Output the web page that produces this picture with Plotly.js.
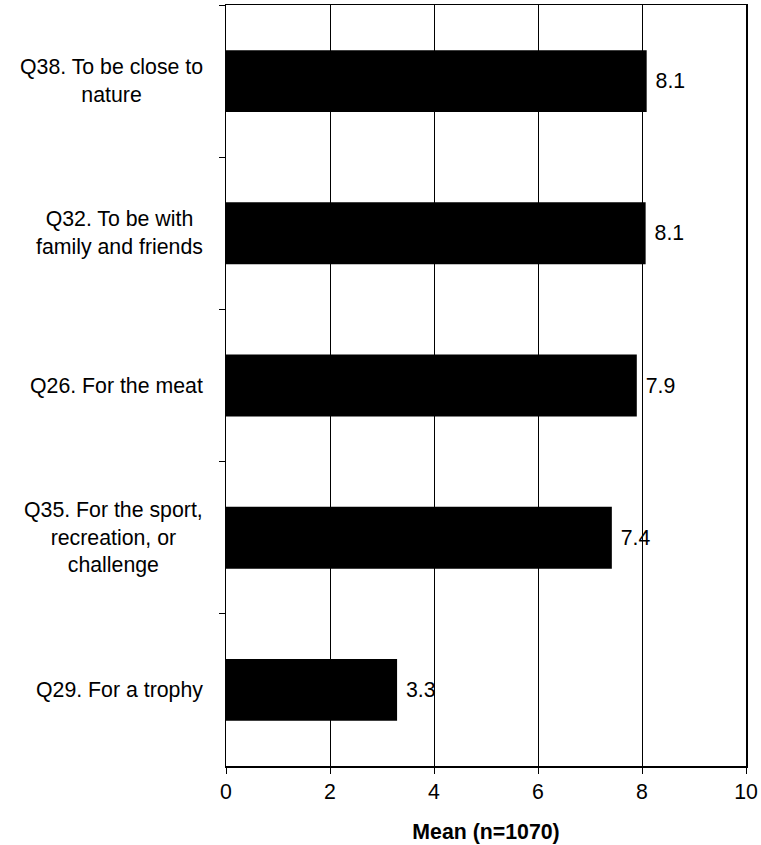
<!DOCTYPE html>
<html>
<head>
<meta charset="utf-8">
<script src="https://cdn.plot.ly/plotly-3.0.1.min.js"></script>
<style>
  html, body { margin: 0; padding: 0; background: #fff; }
  #chart { width: 761px; height: 845px; }
</style>
</head>
<body>
<div id="chart"></div>
<script>
// Data (top to bottom)
const categories = [
  "Q38. To be close to<br>nature",
  "Q32. To be with<br>family and friends",
  "Q26. For the meat",
  "Q35. For the sport,<br>recreation, or<br>challenge",
  "Q29. For a trophy"
];
const means = [8.09, 8.07, 7.90, 7.42, 3.29];
const meanLabels = ["8.1", "8.1", "7.9", "7.4", "3.3"];
const xTickValues = [0, 2, 4, 6, 8, 10];
const xTitle = "Mean (n=1070)";

const FONT = "Liberation Sans, Arial, sans-serif";
const FS = 21.3;

const trace = {
  type: "bar",
  orientation: "h",
  y: categories,
  x: means,
  text: meanLabels,
  texttemplate: "\u00a0%{text}",
  textposition: "outside",
  constraintext: "none",
  cliponaxis: false,
  textfont: { family: FONT, size: FS, color: "#000" },
  marker: { color: "#000", line: { width: 0 } },
  hoverinfo: "none"
};

const annotations = categories.map(c => ({
  xref: "paper", yref: "y",
  x: 0, y: c,
  xanchor: "right", yanchor: "middle",
  xshift: -21,
  align: "center",
  showarrow: false,
  text: c,
  font: { family: FONT, size: FS, color: "#000" }
}));

const layout = {
  width: 761,
  height: 845,
  margin: { l: 226, r: 15, t: 5, b: 79, pad: 0 },
  paper_bgcolor: "#fff",
  plot_bgcolor: "#fff",
  showlegend: false,
  bargap: 0.593,
  font: { family: FONT, size: FS, color: "#000" },
  xaxis: {
    range: [0, 10],
    tickvals: xTickValues,
    ticktext: xTickValues.map(String),
    showgrid: true,
    gridcolor: "#000",
    gridwidth: 1,
    zeroline: false,
    showline: true,
    linecolor: "#000",
    linewidth: 1.5,
    mirror: true,
    ticks: "outside",
    ticklen: 6,
    tickcolor: "#000",
    tickwidth: 1,
    tickfont: { family: FONT, size: FS, color: "#000" },
    title: {
      text: "<b>" + xTitle + "</b>",
      font: { family: FONT, size: FS, color: "#000" },
      standoff: 21
    },
    fixedrange: true
  },
  yaxis: {
    type: "category",
    categoryorder: "array",
    categoryarray: categories,
    autorange: "reversed",
    showticklabels: false,
    showgrid: false,
    zeroline: false,
    showline: true,
    linecolor: "#000",
    linewidth: 1.5,
    mirror: true,
    ticks: "outside",
    tickson: "boundaries",
    ticklen: 6,
    tickcolor: "#000",
    tickwidth: 1,
    fixedrange: true
  },
  annotations: annotations
};

Plotly.newPlot("chart", [trace], layout, { displayModeBar: false, staticPlot: true });
</script>
</body>
</html>
